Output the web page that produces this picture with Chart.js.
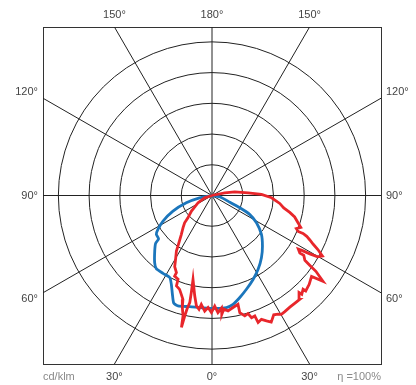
<!DOCTYPE html>
<html>
<head>
<meta charset="utf-8">
<script src="https://cdn.jsdelivr.net/npm/chart.js@4.4.1/dist/chart.umd.min.js"></script>
<style>
  html, body { margin: 0; padding: 0; background: #ffffff; }
  #wrap { width: 416px; height: 385px; }
</style>
</head>
<body>
<div id="wrap"><canvas id="c" width="416" height="385"></canvas></div>
<script>
// ---- grid definition (cd/klm) ----
const RING_VALUES = [100, 200, 300, 400, 500];
const SPOKE_ANGLES = [0, 30, 60, 90, 120, 150, 180, 210, 240, 270, 300, 330];
const AXIS_MAX = 550;

// ---- tick labels ----
const BOTTOM_LABELS = ['30°', '0°', '30°'];
const TOP_LABELS = ['150°', '180°', '150°'];
const SIDE_LABELS = ['60°', '90°', '120°'];   // bottom -> top
const UNIT_LABEL = 'cd/klm';
const EFFICIENCY_LABEL = 'η =100%';

// ---- series: angle gamma in degrees (0 = down, + = right), intensity cd/klm ----
const BLUE_ANGLES = [-90, -79.4, -74.1, -68.1, -62.3, -57.8, -55.0, -50.9, -49.6, -45.8, -40.4, -37.2, -32.1, -27.2, -24.5, -21.8, -19.5, -17.1, -11.3, -4.6, 2.2, 7.3, 10.9, 15.2, 20.1, 26.0, 31.9, 38.4, 44.8, 51.7, 58.4, 63.3, 66.1, 69.3, 80.4, 90];
const BLUE_VALUES = [0, 41, 87, 137, 180, 208, 221, 224, 241, 260, 288, 300, 300, 301, 319, 347, 373, 377, 370, 368, 369, 369, 362, 345, 326, 305, 284, 259, 233, 205, 170, 137, 99, 62, 25, 0];

const RED_ANGLES = [-75, -72.5, -62.5, -52.7, -47.1, -45.0, -41.9, -38.1, -34.9, -32.6, -29.6, -27.6, -24.7, -24.8, -22.0, -21.4, -19.0, -17.2, -15.6, -14.8, -13.5, -13.0, -12.7, -12.4, -11.7, -12.0, -12.7, -9.7, -8.0, -6.5, -5.6, -3.6, -2.0, -0.3, 1.4, 2.9, 4.8, 4.7, 5.9, 7.9, 10.6, 13.4, 13.3, 15.2, 16.9, 17.9, 19.5, 19.9, 21.7, 23.4, 25.0, 27.3, 29.0, 30.2, 32.0, 34.8, 37.4, 40.1, 41.8, 42.2, 44.1, 44.4, 47.5, 50.8, 52.2, 53.8, 54.4, 55.0, 56.8, 56.7, 58.1, 58.5, 59.1, 59.8, 61.2, 62.9, 64.2, 65.5, 66.6, 67.3, 67.3, 68.5, 70.2, 72.5, 75.4, 77.7, 80.1, 83.3, 87.8, 91.2, 94.3, 99.3, 102.0, 105];
const RED_VALUES = [0, 25, 51, 84, 107, 126, 141, 162, 188, 215, 240, 262, 277, 290, 295, 317, 324, 338, 352, 378, 404, 442, 403, 380, 357, 324, 281, 333, 364, 374, 357, 378, 366, 382, 361, 383, 369, 389, 373, 380, 372, 365, 393, 407, 403, 419, 417, 441, 435, 446, 456, 438, 443, 449, 447, 444, 443, 443, 425, 435, 426, 436, 429, 418, 457, 419, 392, 369, 357, 342, 331, 343, 371, 398, 410, 387, 366, 350, 336, 321, 304, 295, 307, 293, 278, 259, 237, 222, 194, 161, 118, 75, 42, 0];

// polar -> cartesian data space (library scales map them to pixels)
function toXY(angles, values) {
  return angles.map((g, i) => {
    const t = g * Math.PI / 180;
    return { x: values[i] * Math.sin(t), y: -values[i] * Math.cos(t) };
  });
}

const TICK_POS = AXIS_MAX * Math.tan(Math.PI / 6);
const SIDE_TICK_POS = TICK_POS + 19;
const FONT = { family: "'Liberation Sans', Arial, Helvetica, sans-serif", size: 11 };
const LABEL_COLOR = '#444444';
const BOX_COLOR = '#333333';

function axis(position, labels, axisName, size, padding, pos) {
  return {
    type: 'linear',
    axis: axisName,
    position: position,
    min: -AXIS_MAX,
    max: AXIS_MAX,
    grid: { display: false, drawTicks: false },
    border: { display: true, color: BOX_COLOR, width: 1 },
    ticks: {
      padding: padding,
      autoSkip: false,
      maxRotation: 0,
      font: FONT,
      color: LABEL_COLOR,
      callback: (v, i) => labels[i]
    },
    afterBuildTicks: s => { s.ticks = [-pos, 0, pos].map(v => ({ value: v })); },
    afterFit: s => {
      if (axisName === 'x') s.height = size; else s.width = size;
    }
  };
}

const polarGrid = {
  id: 'polarGrid',
  beforeDatasetsDraw(chart) {
    const { ctx, chartArea: a, scales: { x, y } } = chart;
    const cx = x.getPixelForValue(0), cy = y.getPixelForValue(0);
    ctx.save();
    ctx.beginPath();
    ctx.rect(a.left, a.top, a.right - a.left, a.bottom - a.top);
    ctx.clip();
    ctx.strokeStyle = '#222222';
    ctx.lineWidth = 1;
    RING_VALUES.forEach(v => {
      const r = x.getPixelForValue(v) - cx;
      ctx.beginPath();
      ctx.arc(cx, cy, r, 0, Math.PI * 2);
      ctx.stroke();
    });
    SPOKE_ANGLES.forEach(g => {
      const t = g * Math.PI / 180, far = AXIS_MAX * 3;
      ctx.beginPath();
      ctx.moveTo(cx, cy);
      ctx.lineTo(x.getPixelForValue(far * Math.sin(t)), y.getPixelForValue(-far * Math.cos(t)));
      ctx.stroke();
    });
    ctx.restore();
  },
  afterDraw(chart) {
    const { ctx, chartArea: a } = chart;
    ctx.save();
    ctx.font = `${FONT.size}px ${FONT.family}`;
    ctx.fillStyle = '#8a8a8a';
    ctx.textBaseline = 'middle';
    const ty = a.bottom + 6 + FONT.size * 0.6;
    ctx.textAlign = 'left';
    ctx.fillText(UNIT_LABEL, a.left, ty);
    ctx.textAlign = 'right';
    ctx.fillText(EFFICIENCY_LABEL, a.right, ty);
    ctx.restore();
  }
};

new Chart(document.getElementById('c'), {
  type: 'scatter',
  data: {
    datasets: [
      {
        label: 'C90-C270',
        data: toXY(RED_ANGLES, RED_VALUES),
        showLine: true,
        borderColor: '#e8262b',
        backgroundColor: '#e8262b',
        borderWidth: 2.8,
        pointRadius: 0,
        tension: 0,
        xAxisID: 'x',
        yAxisID: 'y'
      },
      {
        label: 'C0-C180',
        data: toXY(BLUE_ANGLES, BLUE_VALUES),
        showLine: true,
        borderColor: '#1b76bc',
        backgroundColor: '#1b76bc',
        borderWidth: 2.8,
        pointRadius: 0,
        tension: 0.2,
        xAxisID: 'x',
        yAxisID: 'y'
      }
    ]
  },
  options: {
    responsive: false,
    animation: false,
    devicePixelRatio: 1,
    layout: { padding: 0 },
    plugins: { legend: { display: false }, tooltip: { enabled: false } },
    scales: {
      x: axis('bottom', BOTTOM_LABELS, 'x', 21, 6, TICK_POS),
      x2: axis('top', TOP_LABELS, 'x', 27, 5, TICK_POS),
      y: axis('left', SIDE_LABELS, 'y', 43, 5, SIDE_TICK_POS),
      y2: axis('right', SIDE_LABELS, 'y', 35, 5, SIDE_TICK_POS)
    }
  },
  plugins: [polarGrid]
});
</script>
</body>
</html>
